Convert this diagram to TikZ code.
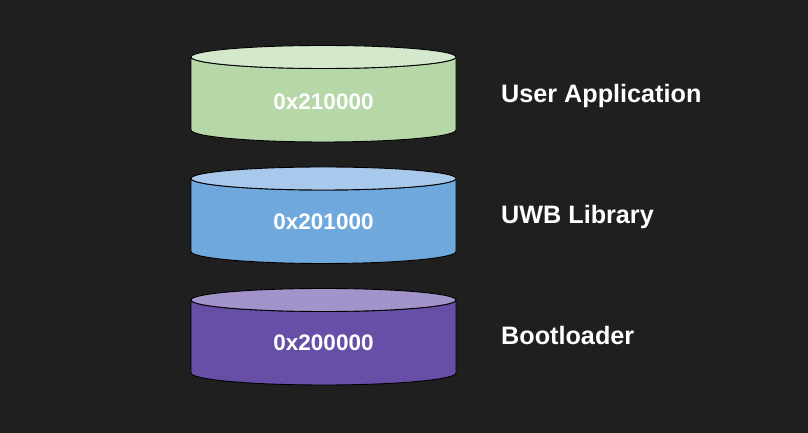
\documentclass[tikz,border=0pt]{standalone}
\usepackage{fontspec}
\setmainfont{Liberation Sans}
\begin{document}
\begin{tikzpicture}[x=1pt,y=1pt,
  disk/.style={draw=black,line width=0.9pt,line join=round},
  addr/.style={text=white,font=\bfseries\fontsize{22.5}{24}\selectfont,anchor=base,inner sep=0pt},
  lbl/.style={text=white,font=\bfseries\fontsize{25.2}{28}\selectfont,anchor=base west,inner sep=0pt}]
  \definecolor{bgc}{HTML}{1F1F1F}
  \definecolor{appside}{HTML}{B6D7A8}\definecolor{apptop}{HTML}{D4E8CC}
  \definecolor{libside}{HTML}{6FA8DC}\definecolor{libtop}{HTML}{A8C8EC}
  \definecolor{bootside}{HTML}{674EA7}\definecolor{boottop}{HTML}{A294CB}
  \fill[bgc] (0,0) rectangle (808,433);
  \useasboundingbox (0,0) rectangle (808,433);
  % one storage drum: left x, right x, top centre y, bottom centre y
  \newcommand{\drum}[6]{%
    \coordinate (#6-tl) at (#1,#3);
    \coordinate (#6-bl) at (#1,#4);
    \coordinate (#6-tr) at (#2,#3);
    \coordinate (#6-br) at (#2,#4);
    \coordinate (#6-tc) at ({(#1+#2)/2},#3);
    \filldraw[disk,fill=#5] (#6-tl) -- (#6-bl)
      arc[start angle=180,end angle=360,x radius=132.5,y radius=12]
      -- (#6-tr)
      arc[start angle=0,end angle=-180,x radius=132.5,y radius=11.5] -- cycle;
  }
  \drum{191}{456}{376}{303}{appside}{app}
  \filldraw[disk,fill=apptop] (app-tc) ellipse[x radius=132.5,y radius=11.5];
  \drum{191}{456}{254.5}{181.5}{libside}{lib}
  \filldraw[disk,fill=libtop] (lib-tc) ellipse[x radius=132.5,y radius=11.5];
  \drum{191}{456}{133}{60}{bootside}{boot}
  \filldraw[disk,fill=boottop] (boot-tc) ellipse[x radius=132.5,y radius=11.5];
  % addresses
  \node[addr] (appaddr) at (323.5,323.7) {0x210000};
  \node[addr] (libaddr) at (323.5,203) {0x201000};
  \node[addr] (bootaddr) at (323.5,82.3) {0x200000};
  % layer names
  \node[lbl] (applbl) at (501,330) {User Application};
  \node[lbl] (liblbl) at (501,209) {UWB Library};
  \node[lbl] (bootlbl) at (501,88) {Bootloader};
\end{tikzpicture}
\end{document}
